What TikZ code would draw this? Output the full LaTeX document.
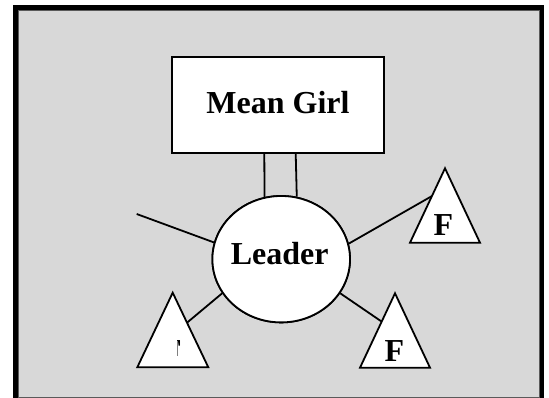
\documentclass[tikz,border=0pt]{standalone}
\usepackage{fontspec}
\setmainfont{Liberation Serif}
\usetikzlibrary{shapes.geometric}
\definecolor{panelgray}{RGB}{216,216,216}
\definecolor{edgegray}{RGB}{90,90,90}
\tikzset{
  shapeline/.style={draw=black, line width=1.8pt, fill=white},
  conn/.style={draw=black, line width=1.8pt},
  bigtext/.style={inner sep=0pt, anchor=base, font=\fontsize{32}{38}\selectfont\bfseries},
  tri/.style={draw=black, line width=1.8pt, fill=white, line join=miter}
}
\begin{document}
\begin{tikzpicture}[x=1pt,y=-1pt]
\useasboundingbox (0,0) rectangle (549,398);
% frame
\fill[black] (13,5) rectangle (544.3,398);
\fill[panelgray] (18.3,10) rectangle (539.7,397);
\draw[edgegray, line width=0.6pt] (18.6,397) -- (18.6,10.3) -- (539.4,10.3) -- (539.4,397);
\draw[edgegray, line width=0.8pt] (18.3,397.3) -- (539.7,397.3);
% nodes
\node[shapeline, rectangle, minimum width=212.3pt, minimum height=96pt, inner sep=0pt] (mg) at (277.85,105.3) {};
\node[shapeline, ellipse, minimum width=137.6pt, minimum height=126.4pt, inner sep=0pt] (leader) at (281.2,259.2) {};
% connectors
\coordinate (freeL) at (136.7,214);
\coordinate (tURside) at (432,196);
\coordinate (tLRside) at (381.8,321.7);
\coordinate (tLLside) at (187,322.7);
\coordinate (mgA) at (264.3,153.3);
\coordinate (mgB) at (295.7,153.3);
\draw[conn] (mgA) -- (leader.105.4);
\draw[conn] (mgB) -- (leader.76.8);
\draw[conn] (freeL) -- (leader.166.8);
\draw[conn] (leader.13.1) -- (tURside);
\draw[conn] (leader.-30.1) -- (tLRside);
\draw[conn] (leader.210.2) -- (tLLside);
% redraw node outlines on top
\node[shapeline, ellipse, minimum width=137.6pt, minimum height=126.4pt, inner sep=0pt] at (281.2,259.2) {};
% triangles
\coordinate (urA) at (445,168.3);
\coordinate (urB) at (410,242.7);
\coordinate (urC) at (480,242.7);
\coordinate (lrA) at (395,293.3);
\coordinate (lrB) at (360,367.7);
\coordinate (lrC) at (430,367.7);
\coordinate (llA) at (172.7,292.7);
\coordinate (llB) at (137.3,367.3);
\coordinate (llC) at (208.3,367.3);
\draw[tri] (urA) -- (urB) -- (urC) -- cycle;
\draw[tri] (lrA) -- (lrB) -- (lrC) -- cycle;
\draw[tri] (llA) -- (llB) -- (llC) -- cycle;
% texts
\node[bigtext] (mgtext) at (278,113.3) {Mean Girl};
\node[bigtext] (leadertext) at (279.7,264.3) {Leader};
\node[bigtext] (fur) at (443.3,236) {F};
\node[bigtext] (flr) at (394.3,361.7) {F};
\begin{scope}
\clip (177.7,340.3) rectangle (182.6,345.5);
\node[bigtext] (fll) at (172,361.7) {F};
\end{scope}
\draw[gray, line width=0.6pt] (177.4,340.5) -- (177.4,356);
\end{tikzpicture}
\end{document}
